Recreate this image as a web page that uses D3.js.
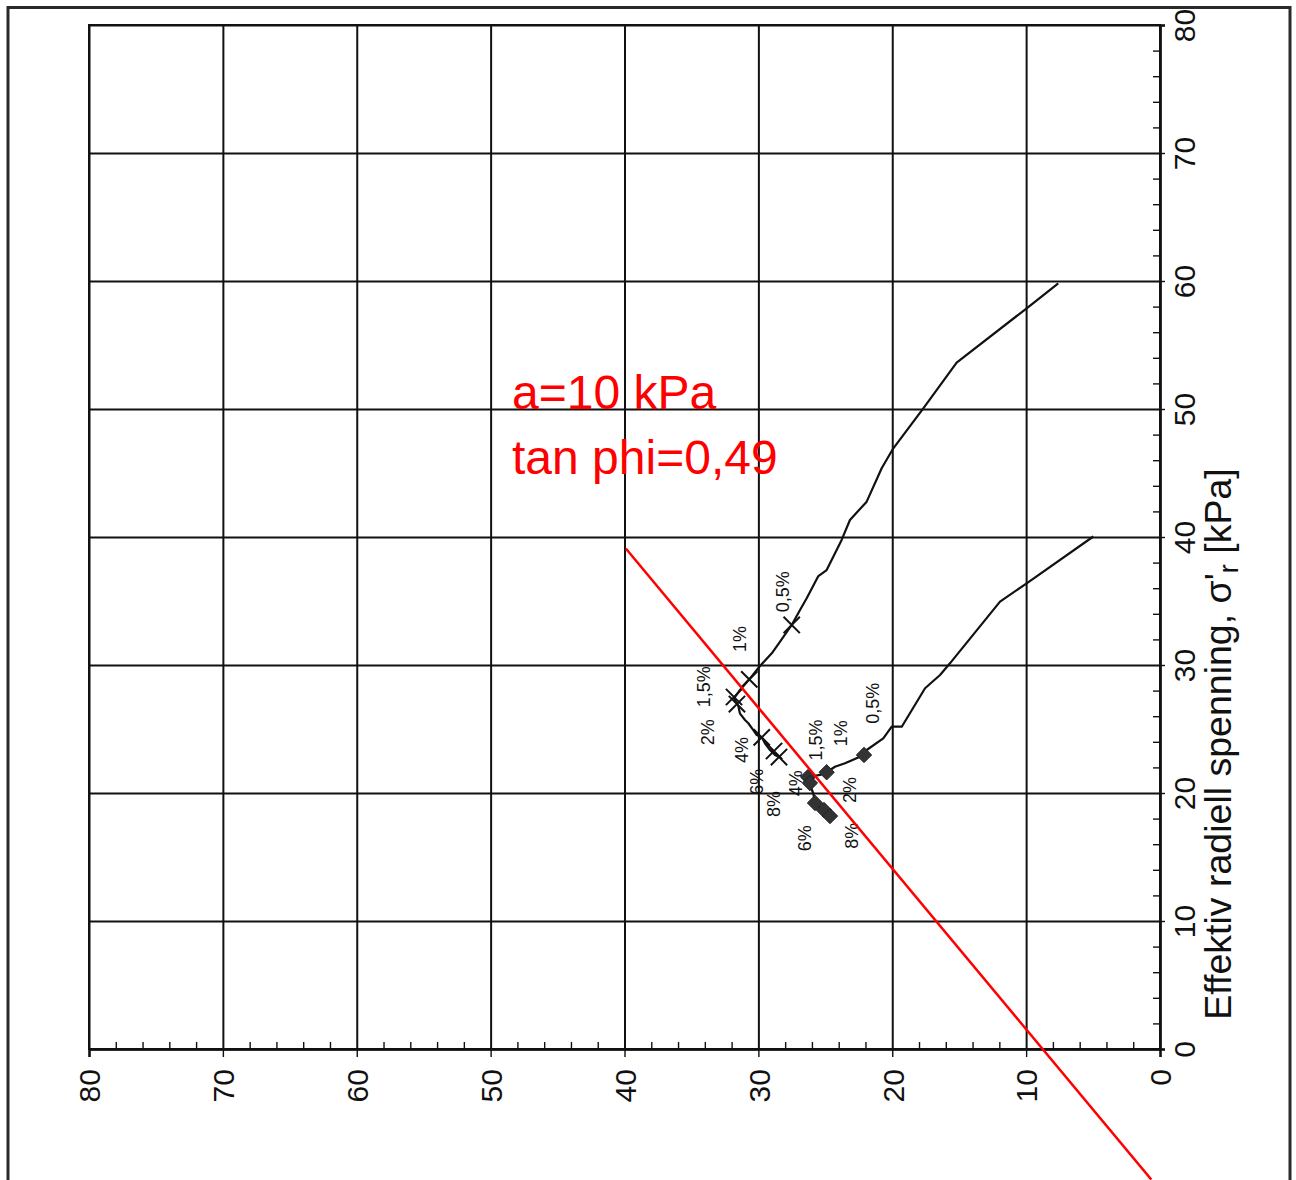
<!DOCTYPE html>
<html>
<head>
<meta charset="utf-8">
<script src="https://cdn.jsdelivr.net/npm/d3@7/dist/d3.min.js"></script>
<style>
  html, body { margin: 0; padding: 0; background: #fff; }
  svg { display: block; font-family: "Liberation Sans", Arial, Helvetica, sans-serif; }
</style>
</head>
<body>
<svg id="chart" width="1296" height="1180"></svg>
<script>
// ---------------- data ----------------
const xMajorTicks = [0, 10, 20, 30, 40, 50, 60, 70, 80];
const yMajorTicks = [0, 10, 20, 30, 40, 50, 60, 70, 80];
const xMinorTicks = d3.range(0, 81, 2).filter(v => v % 10 !== 0);
const yMinorTicks = d3.range(0, 81, 2).filter(v => v % 10 !== 0);

const axisTitleMain = "Effektiv radiell spenning,  σ'";
const axisTitleSub = "r";
const axisTitleEnd = " [kPa]";

// upper stress path (x markers)
const upperPath = [
  [7.60, 59.82], [9.96, 57.87], [15.19, 53.62], [17.68, 50.05], [19.92, 46.93],
  [20.79, 45.37], [21.91, 42.76], [23.16, 41.33], [23.78, 39.77], [24.90, 37.42],
  [25.52, 36.95], [26.39, 35.21], [26.89, 34.30], [27.51, 33.13], [28.38, 31.82],
  [29.00, 30.91], [29.88, 29.92], [30.68, 28.88], [31.37, 28.05], [31.82, 27.40],
  [31.50, 26.80], [31.37, 26.20], [31.00, 25.70], [30.75, 25.45], [30.38, 24.92],
  [30.12, 24.53], [29.75, 24.35], [29.50, 23.87], [29.13, 23.36], [28.76, 22.97],
  [28.46, 22.81]
];
const upperMarkers = [
  [27.51, 33.13], [30.68, 28.88], [31.82, 27.50], [31.60, 26.95],
  [29.75, 24.35], [28.83, 23.28], [28.46, 22.81]
];
const upperLabels = ["0,5%", "1%", "1,5%", "2%", "4%", "6%", "8%"];
const upperLabelPos = [
  [28.14, 35.73], [31.37, 32.03], [34.06, 28.30], [33.74, 24.74],
  [31.25, 23.36], [30.13, 20.88], [28.83, 19.14]
];

// lower stress path (diamond markers)
const lowerPath = [
  [4.98, 40.04], [9.96, 36.38], [11.95, 34.95], [15.69, 30.13], [16.43, 29.22],
  [17.55, 28.18], [19.29, 25.18], [20.04, 25.18], [20.67, 24.27], [21.91, 23.36],
  [22.11, 22.97], [23.53, 22.32], [24.28, 22.05], [24.90, 21.62], [25.40, 21.41],
  [26.27, 21.25], [26.15, 20.63], [25.90, 19.98], [25.77, 19.20], [25.15, 18.67],
  [24.65, 18.28]
];
const lowerMarkers = [
  [22.11, 22.97], [24.90, 21.62], [26.29, 21.25], [26.15, 20.78],
  [25.77, 19.22], [25.10, 18.67], [24.65, 18.20]
];
const lowerLabels = ["0,5%", "1%", "1,5%", "2%", "4%", "6%", "8%"];
const lowerLabelPos = [
  [21.42, 27.01], [23.85, 24.66], [25.72, 24.14], [23.16, 20.23],
  [27.21, 20.76], [26.52, 16.46], [23.03, 16.66]
];

// red failure line and annotation
const redLine = [[39.9, 39.1], [0.65, -10.2]];
const redTexts = ["a=10 kPa", "tan phi=0,49"];
const redTextPos = [[48.4, 50.0], [48.4, 44.9]];

// ---------------- drawing ----------------
const svg = d3.select("#chart");
const L = 89, R = 1160, T = 25, B = 1049;
const x = d3.scaleLinear().domain([80, 0]).range([L, R]);
const y = d3.scaleLinear().domain([0, 80]).range([B, T]);

// outer page frame
const frame = svg.append("g").attr("stroke", "#2a2a2a").attr("stroke-width", 3).attr("fill", "none");
frame.append("path").attr("d", "M8,1180 L8,7.5 L1290,7.5 L1290,1180");

// grid (via axes)
const gridV = svg.append("g").attr("transform", `translate(0,${T})`)
  .call(d3.axisTop(x).tickValues(xMajorTicks).tickSize(-(B - T)).tickFormat(""));
const gridH = svg.append("g").attr("transform", `translate(${L},0)`)
  .call(d3.axisLeft(y).tickValues(yMajorTicks).tickSize(-(R - L)).tickFormat(""));
[gridV, gridH].forEach(g => {
  g.select(".domain").remove();
  g.selectAll("line").attr("stroke", "#111").attr("stroke-width", 2);
});

// plot frame
svg.append("rect").attr("x", L).attr("y", T).attr("width", R - L).attr("height", B - T)
  .attr("fill", "none").attr("stroke", "#111").attr("stroke-width", 2);

// bottom axis
const xAxisG = svg.append("g").attr("transform", `translate(0,${B})`)
  .call(d3.axisBottom(x).tickValues(xMajorTicks).tickSize(8).tickFormat(d3.format("d")));
xAxisG.select(".domain").attr("stroke", "#111").attr("stroke-width", 2.5);
xAxisG.selectAll("line").attr("stroke", "#111").attr("stroke-width", 1.4);
xAxisG.selectAll("text")
  .attr("transform", "rotate(-90)")
  .attr("x", -20).attr("y", 0).attr("dy", "0.36em")
  .attr("text-anchor", "end")
  .attr("font-size", 30).attr("fill", "#111")
  .attr("font-family", "Liberation Sans, Arial, sans-serif");

const xMinorG = svg.append("g").attr("transform", `translate(0,${B})`)
  .call(d3.axisBottom(x).tickValues(xMinorTicks).tickSize(-7).tickFormat(""));
xMinorG.select(".domain").remove();
xMinorG.selectAll("line").attr("stroke", "#111").attr("stroke-width", 1.4);

// right axis
const yAxisG = svg.append("g").attr("transform", `translate(${R},0)`)
  .call(d3.axisRight(y).tickValues(yMajorTicks).tickSize(5).tickFormat(d3.format("d")));
yAxisG.select(".domain").attr("stroke", "#111").attr("stroke-width", 2.5);
yAxisG.selectAll("line").attr("stroke", "#111").attr("stroke-width", 1.4);
yAxisG.selectAll("text")
  .attr("transform", "translate(35,0) rotate(-90)")
  .attr("x", 0).attr("y", 0).attr("dy", 0)
  .attr("text-anchor", "middle")
  .attr("font-size", 30).attr("fill", "#111")
  .attr("font-family", "Liberation Sans, Arial, sans-serif");

const yMinorG = svg.append("g").attr("transform", `translate(${R},0)`)
  .call(d3.axisRight(y).tickValues(yMinorTicks).tickSize(-7).tickFormat(""));
yMinorG.select(".domain").remove();
yMinorG.selectAll("line").attr("stroke", "#111").attr("stroke-width", 1.4);

// axis title (rotated)
const title = svg.append("text")
  .attr("transform", `translate(1231,744) rotate(-90)`)
  .attr("text-anchor", "middle")
  .attr("font-size", 37.5).attr("fill", "#111");
title.append("tspan").text(axisTitleMain);
title.append("tspan").attr("baseline-shift", "-25%").attr("font-size", 27).text(axisTitleSub);
title.append("tspan").text(axisTitleEnd);

// stress paths
const line = d3.line().x(d => x(d[0])).y(d => y(d[1]));
svg.append("path").datum(upperPath).attr("d", line)
  .attr("fill", "none").attr("stroke", "#111").attr("stroke-width", 2.2).attr("stroke-linejoin", "round");
svg.append("path").datum(lowerPath).attr("d", line)
  .attr("fill", "none").attr("stroke", "#111").attr("stroke-width", 2.2).attr("stroke-linejoin", "round");

// markers
svg.append("g").selectAll("path").data(upperMarkers).join("path")
  .attr("transform", d => `translate(${x(d[0])},${y(d[1])})`)
  .attr("d", d3.symbol(d3.symbolTimes).size(175))
  .attr("fill", "none").attr("stroke", "#111").attr("stroke-width", 2);
svg.append("g").selectAll("path").data(lowerMarkers).join("path")
  .attr("transform", d => `translate(${x(d[0])},${y(d[1])})`)
  .attr("d", d3.symbol(d3.symbolDiamond2).size(150))
  .attr("fill", "#333").attr("stroke", "#222").attr("stroke-width", 1);

// strain labels (rotated)
function drawLabels(labels, pos) {
  svg.append("g").selectAll("text").data(labels).join("text")
    .attr("transform", (d, i) => `translate(${x(pos[i][0])},${y(pos[i][1])}) rotate(-90)`)
    .attr("text-anchor", "middle")
    .attr("dominant-baseline", "central")
    .attr("font-size", 18).attr("fill", "#111")
    .text(d => d);
}
drawLabels(upperLabels, upperLabelPos);
drawLabels(lowerLabels, lowerLabelPos);

// red line
svg.append("path").datum(redLine).attr("d", line)
  .attr("fill", "none").attr("stroke", "#f00").attr("stroke-width", 2.5);

// red annotation
svg.append("g").selectAll("text").data(redTexts).join("text")
  .attr("x", (d, i) => x(redTextPos[i][0]))
  .attr("y", (d, i) => y(redTextPos[i][1]))
  .attr("font-size", 48).attr("fill", "#f00")
  .text(d => d);
</script>
</body>
</html>
